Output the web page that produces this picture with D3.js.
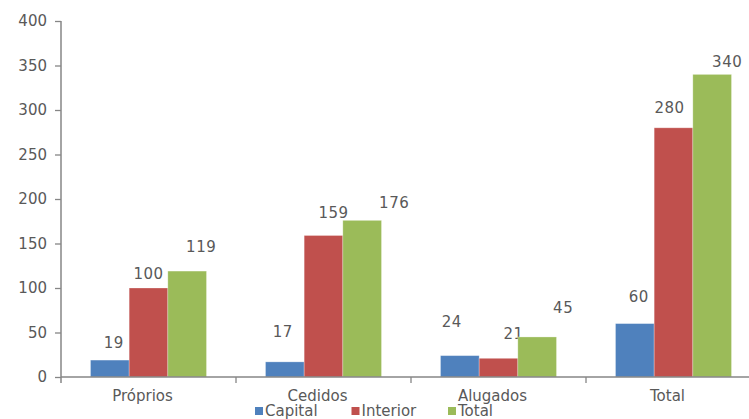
<!DOCTYPE html>
<html>
<head>
<meta charset="utf-8">
<script src="https://cdn.jsdelivr.net/npm/d3@7"></script>
<style>
  body { margin: 0; background: #fff; }
  text { font-family: "DejaVu Sans", sans-serif; }
</style>
</head>
<body>
<div id="chart"></div>
<script>
// dados
const categorias = ["Próprios", "Cedidos", "Alugados", "Total"];
const series = ["Capital", "Interior", "Total"];
const capital = [19, 17, 24, 60];
const interior = [100, 159, 21, 280];
const total = [119, 176, 45, 340];
const yTicks = [0, 50, 100, 150, 200, 250, 300, 350, 400];

const cores = ["#4F81BD", "#C0504D", "#9BBB59"];
const textColor = "#595959";
const axisColor = "#868686";

// deslocamento dos rótulos (estilo Excel), [dx, dy] em px por série/categoria
const labelNudge = [
  [[4, -17], [-2, -30], [-8, -34], [4, -27]],
  [[0, -14], [10, -23], [15, -25], [-4, -20]],
  [[14, -24], [32, -18], [26, -29], [15, -13]]
];

const width = 749, height = 419;
const valores = [capital, interior, total];

const svg = d3.select("#chart")
  .append("svg")
  .attr("width", width)
  .attr("height", height);

const x0 = d3.scaleBand()
  .domain(categorias)
  .range([61, 761]);

const x1 = d3.scaleBand()
  .domain(series)
  .range([29.5, 145.5]);

const y = d3.scaleLinear()
  .domain([0, 400])
  .range([377, 21]);

// eixo y
const yAxis = svg.append("g")
  .attr("transform", "translate(61,0)")
  .call(d3.axisLeft(y).tickValues(yTicks).tickSize(6).tickSizeOuter(0).tickPadding(8));
yAxis.select(".domain").remove();
yAxis.selectAll(".tick line").attr("stroke", axisColor).attr("stroke-width", 1.3);
yAxis.selectAll("text")
  .attr("fill", textColor)
  .attr("font-size", "15px")
  .attr("font-family", "DejaVu Sans");

svg.append("line")
  .attr("x1", 61).attr("x2", 61)
  .attr("y1", y(400)).attr("y2", y(0) + 6)
  .attr("stroke", axisColor)
  .attr("stroke-width", 1.5);

// barras
const grupos = svg.selectAll(".grupo")
  .data(categorias)
  .enter()
  .append("g")
  .attr("class", "grupo")
  .attr("transform", d => `translate(${x0(d)},0)`);

grupos.each(function(cat, ci) {
  const g = d3.select(this);
  series.forEach((s, si) => {
    const v = valores[si][ci];
    g.append("rect")
      .attr("x", x1(s))
      .attr("y", y(v))
      .attr("width", x1.bandwidth())
      .attr("height", y(0) - y(v))
      .attr("fill", cores[si])
      .attr("stroke", "#ffffff")
      .attr("stroke-opacity", 0.35)
      .attr("stroke-width", 0.8);

    const n = labelNudge[si][ci];
    g.append("text")
      .attr("x", x1(s) + x1.bandwidth() / 2 + n[0])
      .attr("y", y(v) + n[1])
      .attr("dy", "0.36em")
      .attr("text-anchor", "middle")
      .attr("font-size", "15px")
      .attr("letter-spacing", "0.5px")
      .attr("fill", textColor)
      .text(v);
  });
});

// eixo x
svg.append("line")
  .attr("x1", 61).attr("x2", 761)
  .attr("y1", y(0)).attr("y2", y(0))
  .attr("stroke", axisColor)
  .attr("stroke-width", 1.5);

svg.selectAll(".xtick")
  .data(categorias.slice(1))
  .enter()
  .append("line")
  .attr("x1", d => x0(d)).attr("x2", d => x0(d))
  .attr("y1", y(0)).attr("y2", y(0) + 6)
  .attr("stroke", axisColor)
  .attr("stroke-width", 1.3);

svg.selectAll(".xlabel")
  .data(categorias)
  .enter()
  .append("text")
  .attr("x", d => x0(d) + x0.bandwidth() / 2 - 6)
  .attr("y", 401)
  .attr("text-anchor", "middle")
  .attr("font-size", "15px")
  .attr("fill", textColor)
  .text(d => d);

// legenda
const legenda = svg.selectAll(".leg")
  .data(series)
  .enter()
  .append("g")
  .attr("class", "leg")
  .attr("transform", (d, i) => `translate(${255 + i * 96.5},407)`);

legenda.append("rect")
  .attr("width", 8)
  .attr("height", 8)
  .attr("fill", (d, i) => cores[i]);

legenda.append("text")
  .attr("x", 10)
  .attr("y", 9)
  .attr("font-size", "15px")
  .attr("fill", textColor)
  .text(d => d);
</script>
</body>
</html>
